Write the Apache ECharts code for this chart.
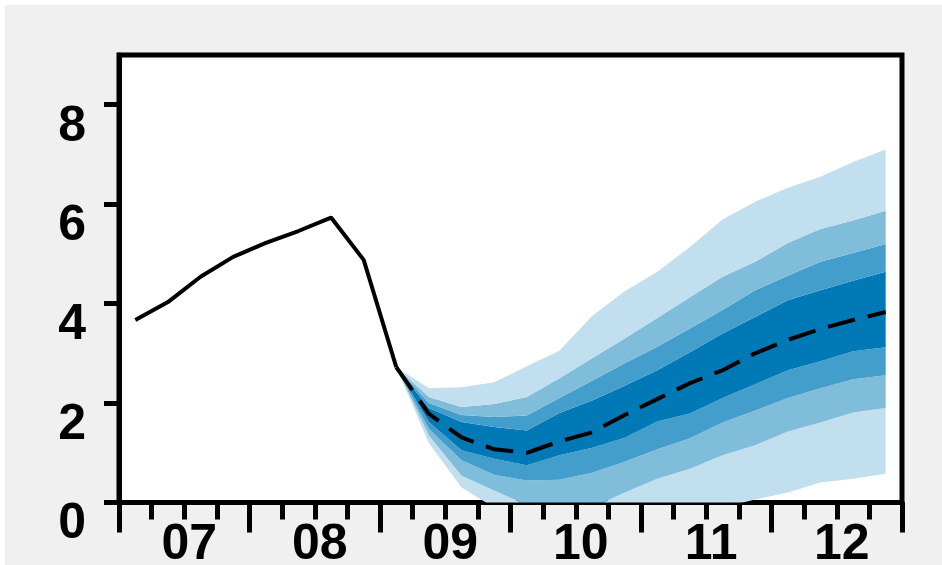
<!DOCTYPE html>
<html>
<head>
<meta charset="utf-8">
<script src="https://cdn.jsdelivr.net/npm/echarts@6/dist/echarts.min.js"></script>
<style>
  html, body { margin: 0; padding: 0; background: #fff; }
  #chart { position: absolute; left: 5px; top: 5px; width: 937px; height: 560px; }
</style>
</head>
<body>
<div id="chart"></div>
<script>
// quarters 2007Q1 .. 2012Q4, years shown under the axis
var quarters = ['07Q1','07Q2','07Q3','07Q4','08Q1','08Q2','08Q3','08Q4',
                '09Q1','09Q2','09Q3','09Q4','10Q1','10Q2','10Q3','10Q4',
                '11Q1','11Q2','11Q3','11Q4','12Q1','12Q2','12Q3','12Q4'];
var years = ['07', '08', '09', '10', '11', '12'];
var yTicks = [0, 2, 4, 6, 8];

// outturn (solid line), 07Q1 .. 09Q1
// (not called "history": that name is taken by window.history)
var outturn = [3.67, 4.03, 4.54, 4.94, 5.22, 5.46, 5.73, 4.88, 2.72];

// projection from 09Q1 on
var fanStart = 8;
var median = [2.72, 1.78, 1.31, 1.07, 1.00, 1.23, 1.41, 1.76, 2.08, 2.40, 2.66, 3.00, 3.27, 3.49, 3.67, 3.83];

// fan band edges, top to bottom
var lightTop = [2.72, 2.30, 2.32, 2.42, 2.74, 3.05, 3.75, 4.25, 4.64, 5.14, 5.69, 6.05, 6.33, 6.55, 6.85, 7.10];
var midTop   = [2.72, 2.12, 1.92, 1.98, 2.12, 2.50, 2.90, 3.30, 3.71, 4.13, 4.54, 4.84, 5.22, 5.50, 5.67, 5.87];
var innerTop = [2.72, 2.00, 1.76, 1.72, 1.75, 2.10, 2.45, 2.80, 3.13, 3.50, 3.87, 4.27, 4.56, 4.84, 5.02, 5.20];
var darkTop  = [2.72, 1.90, 1.62, 1.52, 1.45, 1.80, 2.05, 2.35, 2.66, 3.02, 3.40, 3.73, 4.07, 4.27, 4.46, 4.64];
var darkBot  = [2.72, 1.62, 1.05, 0.88, 0.75, 0.95, 1.10, 1.30, 1.63, 1.79, 2.10, 2.38, 2.66, 2.84, 3.04, 3.12];
var innerBot = [2.72, 1.48, 0.85, 0.56, 0.44, 0.46, 0.60, 0.82, 1.07, 1.29, 1.61, 1.85, 2.10, 2.30, 2.48, 2.56];
var midBot   = [2.72, 1.35, 0.54, 0.24, -0.05, -0.10, -0.10, 0.20, 0.48, 0.68, 0.95, 1.15, 1.43, 1.61, 1.81, 1.90];
var lightBot = [2.72, 1.19, 0.30, -0.10, -0.40, -0.50, -0.50, -0.40, -0.30, -0.20, -0.10, 0.06, 0.20, 0.40, 0.48, 0.58];

var cLight = '#c2dfef', cMid = '#80bddb', cInner = '#439ecb', cDark = '#0079b6';

var chart = echarts.init(document.getElementById('chart'));

function pad(arr, lead) {
    var out = [];
    for (var i = 0; i < lead; i++) out.push('-');
    return out.concat(arr);
}
function diff(hi, lo) {
    return hi.map(function (v, i) { return +(v - lo[i]).toFixed(3); });
}
function band(name, values, color) {
    return {
        name: name,
        type: 'line',
        stack: 'fan',
        stackStrategy: 'all',
        symbol: 'none',
        silent: true,
        data: pad(values, fanStart),
        lineStyle: { width: 0 },
        areaStyle: color ? { color: color, opacity: 1 } : undefined,
        z: 2
    };
}

var font = 'Liberation Sans, Arial, sans-serif';

var option = {
    animation: false,
    backgroundColor: '#f0f0f0',
    grid: {
        left: 114,
        right: 40,
        top: 50,
        bottom: 62.5,
        outerBoundsMode: 'none',
        containLabel: false,
        show: true,
        backgroundColor: '#fff',
        borderColor: '#000',
        borderWidth: 5
    },
    xAxis: [{
        type: 'category',
        data: quarters,
        position: 'bottom',
        axisLine: { show: true, lineStyle: { color: '#000', width: 5 } },
        axisTick: { show: true, interval: 0, length: 17, lineStyle: { color: '#000', width: 5 } },
        axisLabel: { show: false },
        splitLine: { show: false }
    }, {
        type: 'category',
        data: years,
        position: 'bottom',
        axisLine: { show: false },
        axisTick: { show: true, interval: 0, length: 30, lineStyle: { color: '#000', width: 5 } },
        axisLabel: {
            interval: 0,
            color: '#000',
            fontFamily: font,
            fontWeight: 'bold',
            fontSize: 50,
            margin: 18,
            padding: [0, 0, 0, 10]
        },
        splitLine: { show: false }
    }],
    yAxis: {
        type: 'value',
        min: 0,
        max: 9,
        interval: 1,
        axisLine: { show: true, lineStyle: { color: '#000', width: 5 } },
        axisTick: { show: true, length: 15, customValues: yTicks, lineStyle: { color: '#000', width: 5 } },
        axisLabel: {
            customValues: yTicks,
            color: '#000',
            fontFamily: font,
            fontWeight: 'bold',
            fontSize: 50,
            lineHeight: 44,
            margin: 33,
            verticalAlign: 'top'
        },
        splitLine: { show: false }
    },
    series: [
        band('base', lightBot, null),
        band('light-', diff(midBot, lightBot), cLight),
        band('mid-', diff(innerBot, midBot), cMid),
        band('inner-', diff(darkBot, innerBot), cInner),
        band('dark', diff(darkTop, darkBot), cDark),
        band('inner+', diff(innerTop, darkTop), cInner),
        band('mid+', diff(midTop, innerTop), cMid),
        band('light+', diff(lightTop, midTop), cLight),
        {
            name: 'outturn',
            type: 'line',
            symbol: 'none',
            data: outturn,
            lineStyle: { color: '#000', width: 4 },
            z: 5
        },
        {
            name: 'projection',
            type: 'line',
            symbol: 'none',
            data: pad(median, fanStart),
            lineStyle: { color: '#000', width: 4, type: [28, 13] },
            z: 5
        }
    ]
};
chart.setOption(option);
</script>
</body>
</html>
